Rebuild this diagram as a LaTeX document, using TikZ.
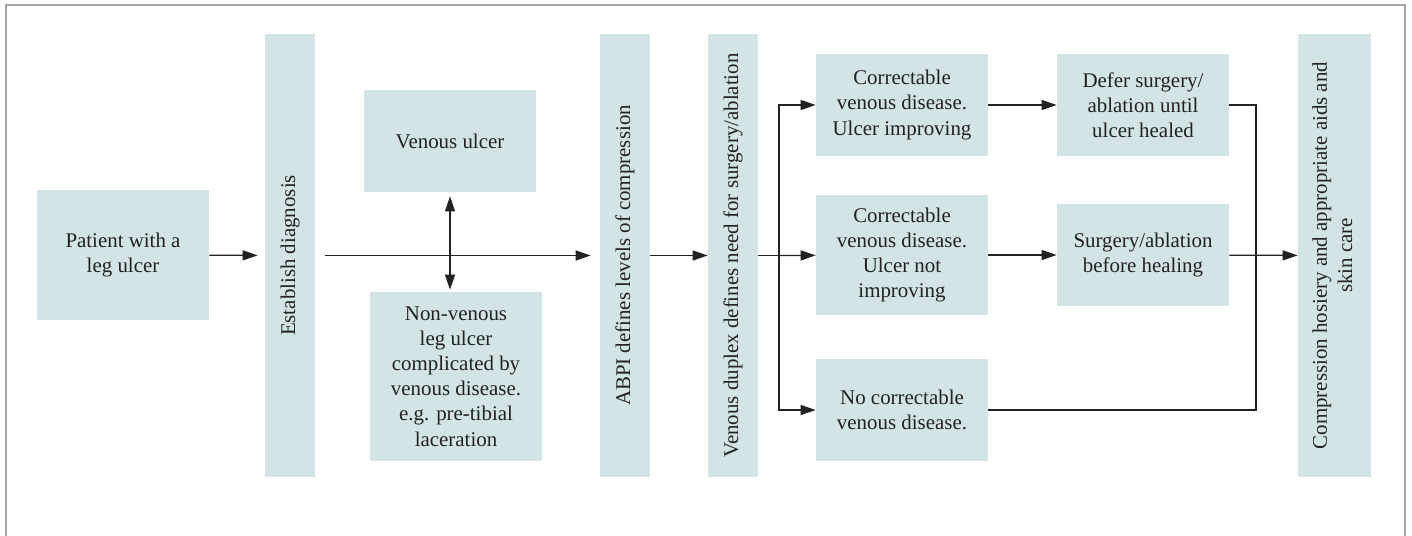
\documentclass[tikz,border=0pt]{standalone}
\usepackage{fontspec}
\setmainfont{Liberation Serif}
\usetikzlibrary{arrows.meta}
\definecolor{boxfill}{RGB}{210,228,230}
\definecolor{inkgray}{RGB}{35,33,34}
\definecolor{framegray}{RGB}{165,165,165}
\def\px{0.02cm}
\tikzset{
	box/.style={fill=boxfill, text=inkgray, align=center, inner sep=0pt, font=\fontsize{11.9}{14.3}\selectfont},
	arr/.style={draw=inkgray, line width=0.7pt, ->},
	ln/.style={draw=inkgray, line width=0.7pt},
	>={Triangle[length=0.3cm,width=0.2cm]}
}
\begin{document}
\begin{tikzpicture}[x=0.02cm, y=-0.02cm]
	\useasboundingbox (0,0) rectangle (1412,536);
	%Frame
	\draw[framegray, line width=1pt] (6,536) -- (6,5) -- (1405,5) -- (1405,536);
	
	%Start and diagnosis
	\node[box, minimum width=172*\px, minimum height=130*\px] (patient) at (123,255) {Patient with a\\leg ulcer};
	\node[box, minimum width=50*\px, minimum height=443*\px] (diag) at (290,255.5) {\rotatebox{90}{Establish diagnosis}};
	\node[box, minimum width=172*\px, minimum height=102*\px] (venous) at (450,141) {Venous ulcer};
	\node[box, minimum width=172*\px, minimum height=169*\px] (nonvenous) at (456,376.5) {Non-venous\\leg ulcer\\complicated by\\venous disease.\\e.g. pre-tibial\\laceration};
	
	%Vertical bars
	\node[box, minimum width=50*\px, minimum height=443*\px] (abpi) at (625,255.5) {\rotatebox{90}{ABPI defines levels of compression}};
	\node[box, minimum width=50*\px, minimum height=443*\px] (duplex) at (733,255.5) {\rotatebox{90}{Venous duplex defines need for surgery/ablation}};
	
	%Outcomes
	\node[box, minimum width=172*\px, minimum height=102*\px] (corr1) at (902,105) {Correctable\\venous disease.\\Ulcer improving};
	\node[box, minimum width=172*\px, minimum height=120*\px] (corr2) at (902,255) {Correctable\\venous disease.\\Ulcer not\\improving};
	\node[box, minimum width=172*\px, minimum height=102*\px] (corr3) at (902,410) {No correctable\\venous disease.};
	\node[box, minimum width=172*\px, minimum height=102*\px] (defer) at (1143,105) {Defer surgery/\\ablation until\\ulcer healed};
	\node[box, minimum width=172*\px, minimum height=102*\px] (surgery) at (1143,255) {Surgery/ablation\\before healing};
	\node[box, minimum width=73*\px, minimum height=443*\px] (compr) at (1334.5,255.5) {\rotatebox{90}{\begin{tabular}{@{}c@{}}Compression hosiery and appropriate aids and\\skin care\end{tabular}}};
	
	\coordinate (split) at (779,255.5);
	\coordinate (join) at (1256,255.5);
	
	%Arrows
	\draw[arr, shorten >=0.14cm] (patient) -- (diag);
	\draw[arr, shorten <=0.2cm, shorten >=0.18cm] (diag) -- (abpi);
	\draw[arr, <->, shorten <=0.08cm, shorten >=0.04cm] (venous.south) -- (venous.south |- nonvenous.north);
	\draw[arr] (abpi) -- (duplex);
	\draw[ln] (duplex) -- (split);
	\draw[arr] (split) |- (corr1.west);
	\draw[arr] (split) -- (corr2);
	\draw[arr] (split) |- (corr3.west);
	\draw[arr] (corr1) -- (defer);
	\draw[arr] (corr2) -- (surgery);
	\draw[ln] (defer.east) -| (join |- corr3.east) -- (corr3.east);
	\draw[arr] (surgery) -- (compr);
\end{tikzpicture}
\end{document}
